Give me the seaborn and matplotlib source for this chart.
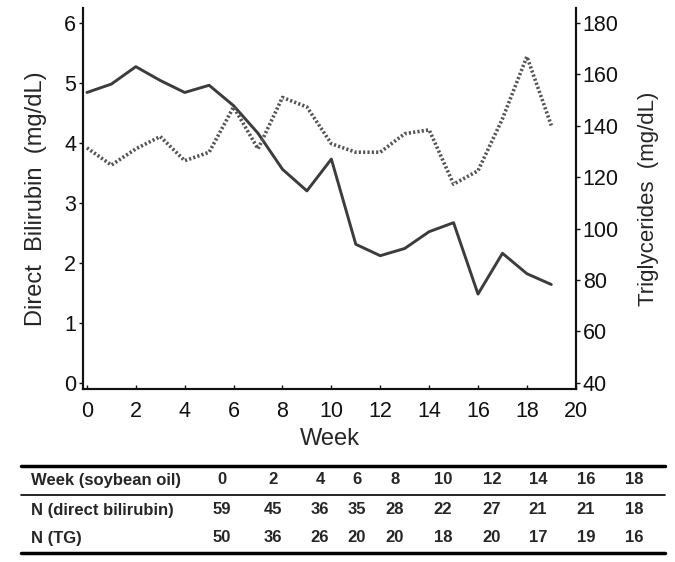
import matplotlib
matplotlib.use("Agg")
import matplotlib.pyplot as plt
import seaborn as sns
import pandas as pd
from matplotlib.lines import Line2D

weeks = list(range(20))
bilirubin = [4.84, 4.98, 5.27, 5.04, 4.84, 4.96, 4.62, 4.16, 3.56, 3.20,
             3.73, 2.31, 2.12, 2.24, 2.52, 2.67, 1.48, 2.16, 1.82, 1.64]
triglycerides = [131.4, 124.7, 131.0, 135.8, 126.4, 129.7, 147.3, 131.0, 151.0, 147.3,
                 133.0, 129.7, 129.7, 136.9, 138.4, 117.3, 122.5, 142.7, 166.9, 140.1]

left_ticks = [0, 1, 2, 3, 4, 5, 6]
right_ticks = [40, 60, 80, 100, 120, 140, 160, 180]
x_ticks = list(range(0, 21, 2))

table_header = "Week (soybean oil)"
table_weeks = ["0", "2", "4", "6", "8", "10", "12", "14", "16", "18"]
row2_label = "N (direct bilirubin)"
n_bilirubin = ["59", "45", "36", "35", "28", "22", "27", "21", "21", "18"]
row3_label = "N (TG)"
n_tg = ["50", "36", "26", "20", "20", "18", "20", "17", "19", "16"]

sns.set_style("ticks")
plt.rcParams["font.family"] = ["Liberation Sans", "DejaVu Sans"]

df = pd.DataFrame({"week": weeks, "bil": bilirubin, "tg": triglycerides})

fig = plt.figure(figsize=(6.75, 5.62), dpi=100)
ax = fig.add_axes([0.123, 0.308, 0.730, 0.678])
ax2 = ax.twinx()

line_col = "#3c3c3c"
sns.lineplot(data=df, x="week", y="bil", ax=ax, color=line_col, linewidth=2.1)
sns.lineplot(data=df, x="week", y="tg", ax=ax2, color="#555555", linewidth=2.6,
             linestyle=(0, (0.6, 0.6)))
ax2.lines[0].set_dash_capstyle("butt")

ax.set_xlim(-0.16, 20.0)
ax.set_ylim(-0.1, 6.25)
ax2.set_ylim(40 - 0.1 * 140 / 6, 40 + 6.25 * 140 / 6)

ax.set_xticks(x_ticks)
ax.set_yticks(left_ticks)
ax2.set_yticks(right_ticks)

for a in (ax, ax2):
    a.spines["top"].set_visible(False)
    for s in a.spines.values():
        s.set_linewidth(1.5)
        s.set_color("#111111")
    a.tick_params(labelsize=15.5, length=3, width=1.0, colors="#111111", pad=2)
ax.tick_params(axis="x", direction="in", pad=9)
ax.spines["right"].set_visible(True)

ax.set_xlabel("Week", fontsize=17, labelpad=4)
ax.set_ylabel("Direct  Bilirubin  (mg/dL)", fontsize=17, labelpad=12)
ax2.set_ylabel("Triglycerides  (mg/dL)", fontsize=16, labelpad=14)

# table below
def yf(py):
    return 1 - py / 562

def xf(px):
    return px / 675

fig.add_artist(Line2D([xf(21), xf(665)], [yf(466), yf(466)], color="black", lw=2.5))
fig.add_artist(Line2D([xf(21), xf(665)], [yf(495), yf(495)], color="black", lw=1.2))
fig.add_artist(Line2D([xf(21), xf(665)], [yf(553), yf(553)], color="black", lw=2.5))

col_x = [222, 273, 320, 357, 395, 443, 492, 538, 586, 634]
rows = [(480, table_header, table_weeks), (510, row2_label, n_bilirubin), (538, row3_label, n_tg)]
for py, label, vals in rows:
    fig.text(xf(31), yf(py), label, fontsize=12, fontweight="bold", va="center", ha="left")
    for cx, v in zip(col_x, vals):
        fig.text(xf(cx), yf(py), v, fontsize=12, fontweight="bold", va="center", ha="center")

fig.savefig("out.png", dpi=100)
